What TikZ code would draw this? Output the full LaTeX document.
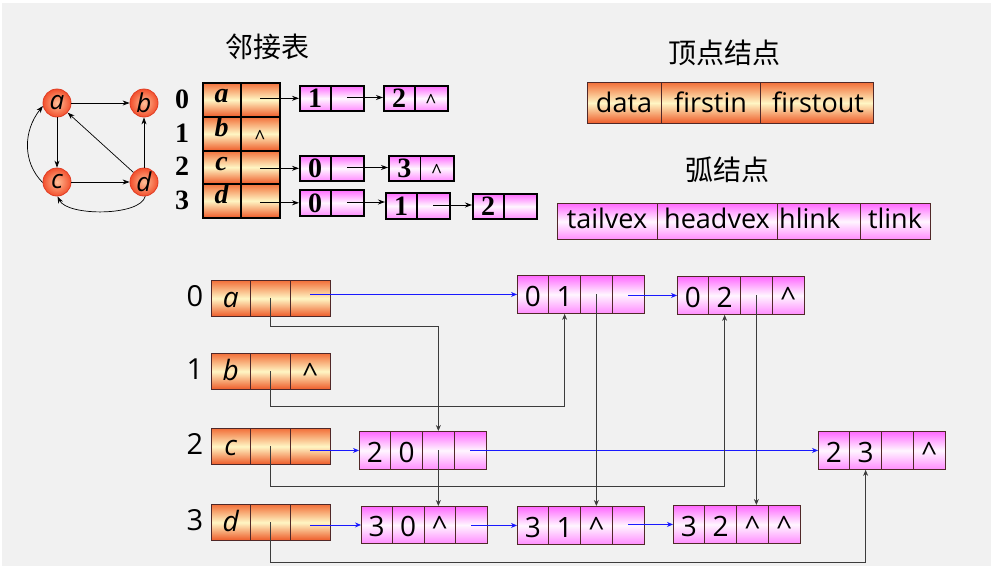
\documentclass[tikz,border=0pt]{standalone}
\usepackage{fontspec}
\setmainfont{Open Sans}
\newfontfamily\cjkf{Noto Sans CJK SC}
\newfontfamily\tmsf{Liberation Serif}
\usetikzlibrary{arrows.meta}
\definecolor{bg}{RGB}{241,241,241}
\definecolor{orT}{RGB}{242,112,58}
\definecolor{orM}{RGB}{255,246,196}
\definecolor{orB}{RGB}{238,90,40}
\definecolor{pkT}{RGB}{255,105,255}
\definecolor{pkM}{RGB}{255,246,255}
\definecolor{pkB}{RGB}{255,140,255}
\definecolor{gIn}{RGB}{255,190,150}
\definecolor{gOut}{RGB}{242,80,45}
\definecolor{lnk}{RGB}{25,25,255}
\definecolor{edge}{RGB}{60,60,60}
\definecolor{bxline}{RGB}{80,40,40}
\newcommand\fsA{\fontsize{28}{32}\selectfont}
\newcommand\fsB{\fontsize{27}{30}\selectfont}
\newcommand\fsT{\tmsf\bfseries\fontsize{28}{30}\selectfont}
\newcommand\fsC{\cjkf\fontsize{28}{32}\selectfont}
\tikzset{
  vbox/.style={draw=bxline, line width=0.9pt, top color=orT, bottom color=orB, middle color=orM, inner sep=0pt, anchor=north west},
  abox/.style={draw=bxline, line width=0.9pt, top color=pkT, bottom color=pkB, middle color=pkM, inner sep=0pt, anchor=north west},
  mvbox/.style={vbox, draw=black, line width=1.6pt},
  mabox/.style={abox, draw=black, line width=1.6pt},
  div/.style={draw=bxline, line width=0.8pt},
  mdiv/.style={draw=black, line width=1.2pt},
  bt/.style={anchor=base, inner sep=0pt, font=\fsA},
  caret/.style={anchor=base, inner sep=0pt, font=\fsA, yshift=-12pt},
  tt/.style={anchor=base, inner sep=0pt, font=\fsT},
  tcaret/.style={anchor=base, inner sep=0pt, font=\tmsf\bfseries\fontsize{20}{22}\selectfont, yshift=-10pt},
  ft/.style={anchor=base, inner sep=0pt, font=\fsB},
  ct/.style={inner sep=0pt, font=\fsC},
  gnode/.style={circle, minimum size=28pt, inner sep=0pt, draw={rgb,255:red,225;green,60;blue,35}, line width=0.8pt, inner color=gIn, outer color=gOut, font=\itshape\fontsize{26}{28}\selectfont},
  garrow/.style={-{Stealth[length=7pt,width=5pt]}, line width=0.7pt, draw=black},
  blu/.style={-{Stealth[length=6pt,width=5pt]}, line width=0.8pt, draw=lnk},
  blk/.style={-{Stealth[length=6pt,width=5pt]}, line width=0.8pt, draw=edge},
  tar/.style={-{Stealth[length=7pt,width=5pt]}, line width=0.9pt, draw=black},
}
% bottom arc box: name xl yt xr yb t1 t2
\newcommand\arcb[7]{%
  \pgfmathsetmacro\mycw{(#4-#2)/4}
  \node[abox, minimum width={#4-#2}, minimum height={#5-#3}] (#1) at (#2,#3) {};
  \foreach \k in {1,2,3}{\draw[div] ({#2+\k*\mycw},#3) -- ({#2+\k*\mycw},#5);}
  \foreach \k in {1,2,3,4}{\coordinate (#1c\k) at ({#2+(\k-0.5)*\mycw},{(#3+#5)/2});}
  \node[bt] (#1t1) at ({#2+0.5*\mycw},{#5-7}) {#6};
  \node[bt] (#1t2) at ({#2+1.5*\mycw},{#5-7}) {#7};
}
% bottom vertex box: name yt yb index letter
\newcommand\vtxb[5]{%
  \node[vbox, minimum width=119, minimum height={#3-#2}] (#1) at (211,#2) {};
  \draw[div] (250.7,#2) -- (250.7,#3);
  \draw[div] (290.3,#2) -- (290.3,#3);
  \coordinate (#1c1) at (230.8,{(#2+#3)/2});
  \coordinate (#1c2) at (270.5,{(#2+#3)/2});
  \coordinate (#1c3) at (310.2,{(#2+#3)/2});
  \node[bt, font=\fsA\itshape] (#1t) at (230.8,{#3-9}) {#5};
  \node[bt, font=\fontsize{29}{32}\selectfont] (#1i) at (195,{#3-10}) {#4};
}
% middle small arc box: name xl yt xr yb digit
\newcommand\sarc[6]{%
  \node[mabox, minimum width={#4-#2}, minimum height={#5-#3}] (#1) at (#2,#3) {};
  \draw[mdiv] ({(#2+#4)/2},#3) -- ({(#2+#4)/2},#5);
  \coordinate (#1c1) at ({#2+(#4-#2)/4},{(#3+#5)/2});
  \coordinate (#1c2) at ({#2+3*(#4-#2)/4},{(#3+#5)/2});
  \node[tt] (#1t) at ({#2+(#4-#2)/4},{#5-3}) {#6};
}
% middle vertex table row: name yt yb index letter
\newcommand\mrow[5]{%
  \node[mvbox, minimum width=77, minimum height={#3-#2}] (#1) at (202,#2) {};
  \draw[mdiv] (241,#2) -- (241,#3);
  \coordinate (#1c1) at (221.5,{(#2+#3)/2});
  \coordinate (#1c2) at (260,{(#2+#3)/2});
  \node[tt, font=\fsT\itshape] (#1t) at (221.5,{#2+20}) {#5};
  \node[tt] (#1i) at (182,{#3-8}) {#4};
}
\begin{document}
\begin{tikzpicture}[x=1pt,y=-1pt]
\useasboundingbox (0,0) rectangle (991,566);
\fill[white] (0,0) rectangle (991,566);
\fill[bg] (2,3) rectangle (991,566);

% ---------- graph ----------
\node[gnode] (a) at (57,103) {a};
\node[gnode] (b) at (144,103) {b};
\node[gnode] (c) at (57,182) {c};
\node[gnode] (d) at (144,182) {d};
\draw[garrow] (a) -- (b);
\draw[garrow] (a) -- (c);
\draw[garrow] (c) -- (d);
\draw[garrow] (d) -- (b);
\draw[garrow] (d) -- (a);
\draw[garrow] (c.182) .. controls +(-20,-20) and +(-20,25) .. (a.192);
\draw[garrow] (d.-85) .. controls +(-5,20) and +(10,20) .. (c.-88);

% ---------- adjacency list ----------
\node[ct] (t1) at (267,47) {邻接表};
\mrow{VT0}{82}{116}{0}{a}
\mrow{VT1}{116}{150}{1}{b}
\mrow{VT2}{150}{183}{2}{c}
\mrow{VT3}{183}{217}{3}{d}
\node[tcaret] (VT1k) at (VT1c2) {\textasciicircum};
\sarc{S0a}{299}{85}{363}{110}{1}
\sarc{S0b}{383}{85}{447}{110}{2}
\node[tcaret] (S0bk) at (S0bc2) {\textasciicircum};
\sarc{S2a}{299}{155}{363}{180}{0}
\sarc{S2b}{388}{155}{453}{180}{3}
\node[tcaret] (S2bk) at (S2bc2) {\textasciicircum};
\sarc{S3a}{299}{189}{363}{215}{0}
\sarc{S3b}{385}{192}{449}{218}{1}
\sarc{S3c}{472}{193}{536}{218}{2}
\draw[tar] (VT0c2 |- S0a.west) -- (S0a.west);
\draw[tar] (S0ac2) -- (S0ac2 -| S0b.west);
\draw[tar] (VT2c2 |- S2a.west) -- (S2a.west);
\draw[tar] (S2ac2) -- (S2ac2 -| S2b.west);
\draw[tar] (VT3c2 |- S3a.west) -- (S3a.west);
\draw[tar] (S3ac2) -- (S3ac2 -| S3b.west);
\draw[tar] (S3bc2) -- (S3bc2 -| S3c.west);

% ---------- node formats ----------
\node[ct] (t2) at (724,53) {顶点结点};
\node[vbox, minimum width=286, minimum height=41] (VN) at (587,82) {};
\draw[div] (661,82) -- (661,123);
\draw[div] (760,82) -- (760,123);
\node[ft] (f1) at (624,112) {data};
\node[ft] (f2) at (710.5,112) {firstin};
\node[ft] (f3) at (818,112) {firstout};
\node[ct] (t3) at (727,170) {弧结点};
\node[abox, minimum width=373, minimum height=36] (AN) at (557,203) {};
\draw[div] (657,203) -- (657,239);
\draw[div] (777,203) -- (777,239);
\draw[div] (860,203) -- (860,239);
\node[ft] (g1) at (607,228) {tailvex};
\node[ft] (g2) at (717,228) {headvex};
\node[ft, anchor=base west] (g3) at (779,228) {hlink};
\node[ft] (g4) at (895,228) {tlink};

% ---------- orthogonal list ----------
\vtxb{Va}{280}{316}{0}{a}
\vtxb{Vb}{353}{389}{1}{b}
\vtxb{Vc}{428}{464}{2}{c}
\vtxb{Vd}{504}{540}{3}{d}
\node[caret] (Vbk) at (Vbc3) {\textasciicircum};

\arcb{T01}{517}{275}{644}{313}{0}{1}
\arcb{T02}{677}{276}{804}{314}{0}{2}
\node[caret] (T02k) at (T02c4) {\textasciicircum};
\arcb{T20}{359}{431}{486}{469}{2}{0}
\arcb{T23}{818}{431}{945}{469}{2}{3}
\node[caret] (T23k) at (T23c4) {\textasciicircum};
\arcb{T30}{361}{506}{487}{543}{3}{0}
\node[caret] (T30k) at (T30c3) {\textasciicircum};
\arcb{T31}{517}{506}{644}{544}{3}{1}
\node[caret] (T31k) at (T31c3) {\textasciicircum};
\arcb{T32}{673}{505}{800}{543}{3}{2}
\node[caret] (T32k3) at (T32c3) {\textasciicircum};
\node[caret] (T32k4) at (T32c4) {\textasciicircum};

% blue tail links
\draw[blu] (Vac3 |- T01.west) -- (T01.west);
\draw[blu] (T01c4 |- T02.west) -- (T02.west);
\draw[blu] (Vcc3 |- T20.west) -- (T20.west);
\draw[blu] (T20c4 |- T23.west) -- (T23.west);
\draw[blu] (Vdc3 |- T30.west) -- (T30.west);
\draw[blu] (T30c4 |- T31.west) -- (T31.west);
\draw[blu] (T31c4 |- T32.west) -- (T32.west);

% black head links
\draw[blk] (Vac2) -- ++(0,28) -| (T20c3 |- T20.north);
\draw[blk] (Vbc2) -- ++(0,35) -| (T01c2 |- T01.south);
\draw[blk] (Vcc2) -- ++(0,40) -| (T02c2 |- T02.south);
\draw[blk] (Vdc2) -- ++(0,40) -| (T23c2 |- T23.south);
\draw[blk] (T01c3) -- (T01c3 |- T31.north);
\draw[blk] (T02c3) -- (T02c3 |- T32.north);
\draw[blk] (T20c3) -- (T20c3 |- T30.north);
\end{tikzpicture}
\end{document}
